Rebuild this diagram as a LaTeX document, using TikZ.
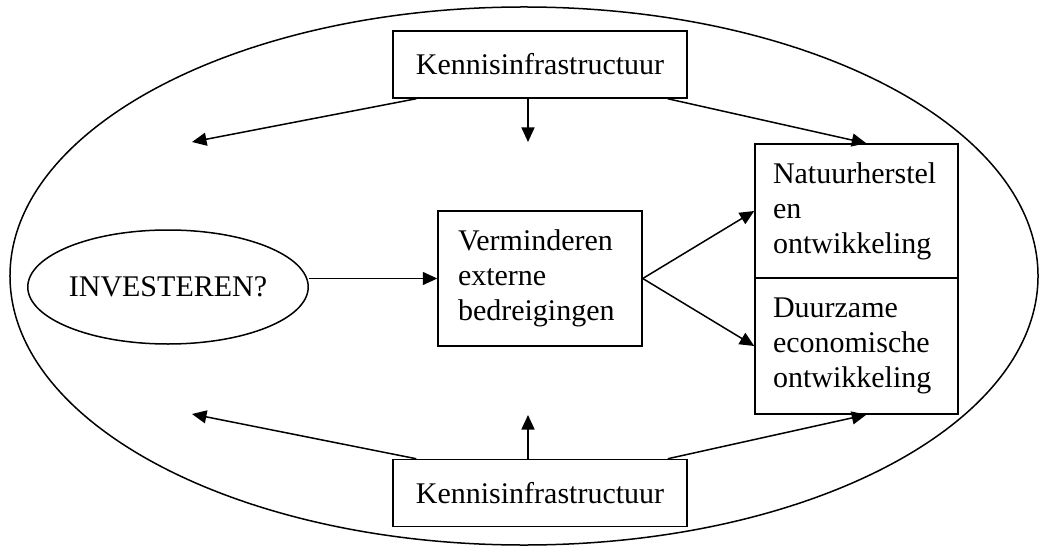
\documentclass[tikz,border=0pt]{standalone}
\usepackage{fontspec}
\setmainfont{Liberation Serif}
\usetikzlibrary{arrows.meta,shapes.geometric,calc}
\begin{document}
\begin{tikzpicture}[x=0.4pt,y=-0.4pt,
  every node/.style={font=\fontsize{12}{14}\selectfont},
  ln/.style={line width=0.6pt},
  arr/.style={ln,-{Triangle[length=5.8pt,width=5.2pt]}},
  kbox/.style={draw,ln,minimum width=117.6pt,minimum height=26.8pt,inner sep=0pt},
  tbox/.style={draw,ln,inner xsep=7.2pt,inner ysep=0pt,text width=66.8pt,align=left,minimum width=81.2pt}
]
\useasboundingbox (0,0) rectangle (1039,546);
\node[draw,ln,ellipse,minimum width=411.2pt,minimum height=215.2pt,inner sep=0pt] (world) at (524,276) {};
\node[kbox] (k1) at (540,64.5) {Kennisinfrastructuur};
\node[kbox] (k2) at (540,493) {Kennisinfrastructuur};
\node[draw,ln,inner xsep=8pt,inner ysep=0pt,text width=65.6pt,align=left,minimum width=81.6pt,minimum height=54pt] (verm) at (540,278.5) {Verminderen\\externe\\bedreigingen};
\node[tbox,minimum height=53.6pt] (nat) at (856.5,211) {Natuurherstel\\en\\ontwikkeling};
\node[tbox,minimum height=54.4pt] (duur) at (856.5,346) {Duurzame\\economische\\ontwikkeling};
\node[draw,ln,ellipse,minimum width=108pt,minimum height=45.6pt,inner sep=0pt] (inv) at (168,287) {INVESTEREN?};
% free ends
\coordinate (tl) at (192,142);
\coordinate (tm) at (528,142);
\coordinate (bl) at (192,414);
\coordinate (bm) at (528,415);
% arrows
\draw[arr] (inv.east |- verm.west) -- (verm.west);
\draw[arr] (verm.east) -- (nat.west);
\draw[arr] (verm.east) -- (duur.west);
\draw[arr] ($(k1.south west)+(24,0)$) -- (tl);
\draw[arr] (k1.south -| tm) -- (tm);
\draw[arr] ($(k1.south east)+(-20,0)$) -- ($(nat.north west)+(112,0)$);
\draw[arr] ($(k2.north west)+(24,0)$) -- (bl);
\draw[arr] (k2.north -| bm) -- (bm);
\draw[arr] ($(k2.north east)+(-20,0)$) -- ($(duur.south west)+(112,0)$);
\end{tikzpicture}
\end{document}
